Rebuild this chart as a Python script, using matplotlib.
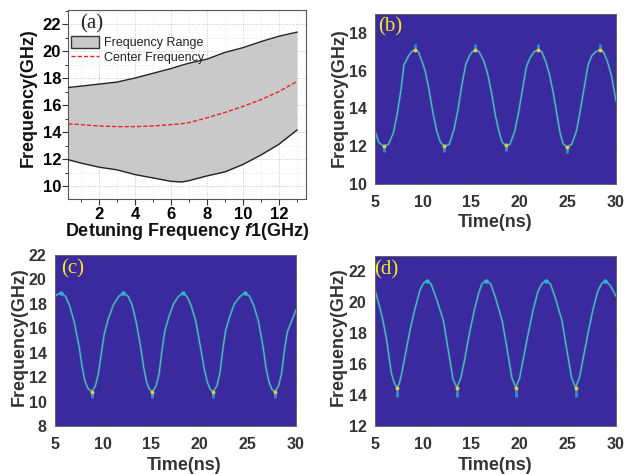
import numpy as np
import matplotlib.pyplot as plt
from matplotlib.patches import Patch
from matplotlib.lines import Line2D
from matplotlib.ticker import MultipleLocator

W, H = 629, 474
plt.rcParams['font.family'] = ['Liberation Sans', 'DejaVu Sans']
plt.rcParams['mathtext.fontset'] = 'custom'
plt.rcParams['mathtext.it'] = 'Liberation Sans:italic:bold'

# panel (a)
det = [0.3, 1, 2, 3, 4, 5, 6, 6.6, 7, 8, 9, 10, 11, 12, 13]
upper = [17.3, 17.4, 17.55, 17.7, 18.0, 18.35, 18.7, 18.95, 19.1, 19.4, 19.9, 20.25, 20.7, 21.1, 21.4]
lower = [11.95, 11.7, 11.4, 11.2, 10.85, 10.6, 10.35, 10.3, 10.4, 10.75, 11.05, 11.6, 12.3, 13.1, 14.15]
center = [14.6, 14.55, 14.45, 14.4, 14.4, 14.45, 14.55, 14.62, 14.7, 15.05, 15.45, 15.9, 16.4, 17.0, 17.75]

# panel (b)
t_b = [5.0, 5.4, 5.9, 6.4, 6.9, 7.3, 7.7, 8.0, 8.5, 8.8, 9.15, 9.5, 9.8, 10.2, 10.6, 11.0, 11.4, 11.8, 12.2,
       12.7, 13.2, 13.6, 14.0, 14.4, 14.8, 15.1, 15.4, 15.8, 16.3, 16.7, 17.1, 17.5, 17.9, 18.2, 18.55,
       19.0, 19.5, 19.9, 20.3, 20.7, 21.1, 21.5, 21.9, 22.3, 22.7, 23.1, 23.5, 23.9, 24.2, 24.5, 24.9,
       25.4, 25.9, 26.3, 26.7, 27.1, 27.5, 27.9, 28.3, 28.7, 29.1, 29.5, 30.0]
f_b = [12.8, 12.2, 12.0, 12.1, 12.7, 13.7, 15.0, 16.3, 16.8, 17.0, 17.1, 17.0, 16.6, 16.0, 15.0, 13.8, 12.8, 12.2, 12.0,
       12.1, 12.9, 13.9, 15.2, 16.3, 16.8, 17.0, 17.1, 17.0, 16.5, 15.8, 14.8, 13.6, 12.7, 12.2, 12.05,
       12.1, 12.8, 13.8, 15.0, 16.2, 16.7, 17.0, 17.1, 17.0, 16.5, 15.8, 14.8, 13.6, 12.7, 12.15, 11.95,
       12.1, 12.8, 13.9, 15.1, 16.3, 16.8, 17.0, 17.1, 17.0, 16.5, 15.8, 14.4]
hot_b = [5.9, 9.15, 12.2, 15.4, 18.55, 21.9, 24.9, 28.3]
hotf_b = [12.0, 17.1, 12.0, 17.1, 12.05, 17.1, 11.95, 17.1]
tail_b = [-0.3, 0.3, -0.3, 0.3, -0.3, 0.3, -0.3, 0.3]

# panel (c)
t_c = [5.0, 5.2, 5.6, 6.1, 6.5, 7.0, 7.5, 7.8, 8.1, 8.4, 8.8, 9.2, 9.5, 9.8, 10.1, 10.5, 11.05, 11.6, 12.1,
       12.6, 13.0, 13.4, 13.9, 14.2, 14.5, 14.8, 15.1, 15.5, 15.8, 16.1, 16.4, 16.8, 17.3, 17.8, 18.25,
       18.7, 19.1, 19.6, 20.1, 20.5, 20.8, 21.1, 21.4, 21.8, 22.1, 22.4, 22.7, 23.1, 23.6, 24.2, 24.7,
       25.2, 25.6, 26.1, 26.6, 26.9, 27.2, 27.5, 27.8, 28.2, 28.5, 28.8, 29.1, 29.5, 30.0]
f_c = [18.6, 18.75, 18.9, 18.6, 17.9, 16.5, 14.5, 12.9, 11.7, 11.1, 10.8, 11.3, 12.3, 13.9, 15.5, 16.7, 17.9, 18.6, 18.9,
       18.6, 17.9, 16.6, 14.4, 12.8, 11.6, 11.0, 10.8, 11.3, 12.3, 14.2, 15.8, 16.9, 18.0, 18.6, 18.9,
       18.6, 17.9, 16.6, 14.4, 12.6, 11.6, 11.0, 10.8, 11.3, 12.3, 14.2, 15.8, 16.9, 18.0, 18.6, 18.9,
       18.6, 17.9, 16.6, 14.4, 12.7, 11.6, 11.0, 10.8, 11.3, 12.3, 14.2, 15.7, 16.5, 17.5]
hot_c = [8.8, 15.1, 21.4, 27.8]
hotf_c = [10.8, 10.8, 10.8, 10.8]
tail_c = [-0.5, -0.5, -0.5, -0.5]
peak_c = [5.6, 12.1, 18.25, 24.7]
peakf_c = [18.9, 18.9, 18.9, 18.9]

# panel (d)
t_d = [5.0, 5.4, 5.8, 6.2, 6.7, 7.0, 7.25, 7.5, 7.77, 8.2, 8.63, 9.15, 9.67, 10.0, 10.36, 10.8, 11.4, 12.1, 12.6, 13.1, 13.5,
       13.9, 14.3, 14.8, 15.3, 15.8, 16.1, 16.5, 17.0, 17.5, 18.2, 18.7, 19.2, 19.6,
       20.0, 20.4, 20.9, 21.4, 21.9, 22.3, 22.7, 23.2, 23.7, 24.4, 24.9, 25.4, 25.8,
       26.2, 26.6, 27.1, 27.6, 28.1, 28.5, 28.9, 29.4, 30.0]
f_d = [20.8, 19.9, 18.9, 17.6, 15.4, 14.8, 14.5, 14.7, 15.4, 16.8, 18.2, 19.6, 20.8, 21.2, 21.4, 21.2, 20.2, 18.8, 16.9, 15.0, 14.5,
       15.1, 16.3, 18.0, 19.5, 20.7, 21.2, 21.4, 21.2, 20.3, 18.8, 17.0, 15.1, 14.5,
       15.1, 16.4, 18.0, 19.5, 20.7, 21.2, 21.4, 21.2, 20.3, 18.8, 16.9, 15.1, 14.5,
       15.1, 16.4, 18.0, 19.5, 20.7, 21.2, 21.4, 21.1, 20.4]
hot_d = [7.25, 13.5, 19.6, 25.8]
hotf_d = [14.45, 14.45, 14.45, 14.45]
tail_d = [-0.55, -0.55, -0.55, -0.55]
peak_d = [10.36, 16.5, 22.7, 28.9]
peakf_d = [21.4, 21.4, 21.4, 21.4]

def add_ax(left, top, right, bottom):
	return fig.add_axes([left / W, 1 - bottom / H, (right - left) / W, (bottom - top) / H])

def place_labels(ax, xl, yl, xpos, ypos, color, size):
	ax.set_xlabel(xl, fontsize=size, fontweight='bold', color=color, va='center')
	ax.set_ylabel(yl, fontsize=size, fontweight='bold', color=color, va='center')
	ax.xaxis.set_label_coords(xpos[0] / W, 1 - xpos[1] / H, transform=fig.transFigure)
	ax.yaxis.set_label_coords(ypos[0] / W, 1 - ypos[1] / H, transform=fig.transFigure)

def spectro(box, t, f, hot, hotf, tail, ylim, yticks, name, lab_x, lab_y, xl_pos, yl_pos):
	ax = add_ax(*box)
	ax.set_facecolor('#3A2A9E')
	ax.plot(t, f, color='#2A8FD0', lw=1.8, alpha=0.5, solid_joinstyle='round')
	ax.plot(t, f, color='#55C4A8', lw=0.8, solid_joinstyle='round')
	ax.vlines(hot, hotf, np.array(hotf) + np.array(tail), color='#2FA8D0', lw=2, alpha=0.8, zorder=3)
	ax.scatter(hot, hotf, s=8, color='#E8C83C', linewidths=0, zorder=4)
	ax.set_xlim(5, 30)
	ax.set_ylim(*ylim)
	ax.set_xticks([5, 10, 15, 20, 25, 30])
	ax.set_yticks(yticks)
	ax.tick_params(direction='in', length=2.5, width=0.6, color='#444444', labelcolor='#333333',
		top=True, right=True)
	ax.tick_params(axis='x', pad=8)
	ax.tick_params(axis='y', pad=6)
	for lab in ax.get_xticklabels() + ax.get_yticklabels():
		lab.set_fontsize(11.5)
		lab.set_fontweight('bold')
	for s in ax.spines.values():
		s.set_color('#666666')
		s.set_linewidth(0.7)
	place_labels(ax, 'Time(ns)', 'Frequency(GHz)', xl_pos, yl_pos, '#333333', 13)
	fig.text(lab_x / W, 1 - lab_y / H, name, color='#F5E81E', fontsize=15, family='Liberation Serif', va='center')
	return ax

fig = plt.figure(figsize=(W / 100, H / 100), dpi=100)

# panel a
ax = add_ax(68, 10, 306, 199)
ax.fill_between(det, lower, upper, color='#C9C9C9', linewidth=0, zorder=2)
ax.plot(det, upper, color='#222222', lw=1.0, zorder=3)
ax.plot(det, lower, color='#222222', lw=1.0, zorder=3)
ax.plot(det, center, color='#EE2222', lw=1.0, ls=(0, (3, 1.5)), zorder=4)
ax.set_xlim(0.28, 13.5)
ax.set_ylim(9.04, 23.04)
ax.xaxis.set_major_locator(MultipleLocator(2))
ax.xaxis.set_minor_locator(MultipleLocator(1))
ax.yaxis.set_major_locator(MultipleLocator(2))
ax.yaxis.set_minor_locator(MultipleLocator(1))
ax.grid(True, which='major', color='#BBBBBB', lw=0.6, ls=':', zorder=0)
ax.grid(True, which='minor', color='#E2E2E2', lw=0.5, ls=':', zorder=0)
ax.tick_params(which='major', length=4, width=0.8, color='#333333', labelsize=12)
ax.tick_params(which='minor', length=2, width=0.7, color='#333333')
ax.tick_params(axis='x', which='major', pad=1.5)
ax.tick_params(axis='y', which='major', pad=1)
for lab in ax.get_xticklabels() + ax.get_yticklabels():
	lab.set_fontweight('bold')
for s in ax.spines.values():
	s.set_color('#555555')
	s.set_linewidth(0.8)
place_labels(ax, 'Detuning Frequency $\\mathit{f}$1(GHz)',
	'Frequency(GHz)', (187, 232), (28, 98), '#111111', 13)
ax.text(0.98, 22.0, '(a)', fontsize=15, family='Liberation Serif', color='#222222', va='center')
hands = [Patch(facecolor='#C9C9C9', edgecolor='#333333', lw=1.0), Line2D([0], [0], color='#EE2222', lw=1.0, ls=(0, (3, 1.5)))]
ax.legend(hands, ['Frequency Range', 'Center Frequency'], loc='upper left', bbox_to_anchor=(0.0, 0.875),
	frameon=False, fontsize=9, handlelength=2.3, handleheight=1.1, labelspacing=0.15,
	handletextpad=0.4, borderaxespad=0.1, borderpad=0.1, labelcolor='#222222')

spectro((375, 14, 616, 184), t_b, f_b, hot_b, hotf_b, tail_b, (10, 19), [10, 12, 14, 16, 18], '(b)', 378, 27, (495, 222), (339, 98))
ax_c = spectro((55, 255, 296, 426), t_c, f_c, hot_c, hotf_c, tail_c, (8, 22), [8, 10, 12, 14, 16, 18, 20, 22], '(c)', 61, 269, (184, 466), (19, 337))
ax_c.scatter(peak_c, peakf_c, s=10, color='#2FB4D0', linewidths=0, zorder=4)
ax_d = spectro((375, 256, 616, 426), t_d, f_d, hot_d, hotf_d, tail_d, (12, 23), [12, 14, 16, 18, 20, 22], '(d)', 374, 270, (495, 466), (338, 337))
ax_d.scatter(peak_d, peakf_d, s=10, color='#2FB4D0', linewidths=0, zorder=4)

plt.savefig('out.png', dpi=100)
